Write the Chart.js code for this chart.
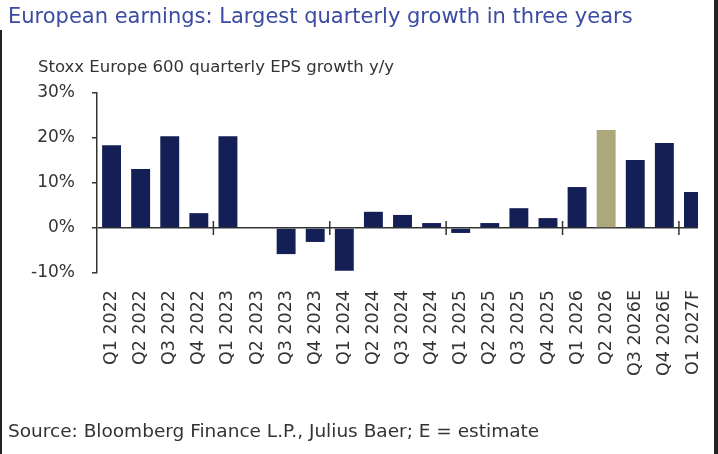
<!DOCTYPE html>
<html>
<head>
<meta charset="utf-8">
<script src="https://cdn.jsdelivr.net/npm/chart.js@4/dist/chart.umd.min.js"></script>
<style>
  html, body { margin: 0; padding: 0; background: #fff; }
  body { width: 718px; height: 454px; position: relative; overflow: hidden; font-family: "DejaVu Sans", sans-serif; }
  #title { position: absolute; left: 8px; top: 4px; font-size: 21px; color: #3b4ba3; white-space: nowrap; }
  #subtitle { position: absolute; left: 38px; top: 57px; font-size: 16.5px; color: #333; white-space: nowrap; }
  #source { position: absolute; left: 8px; top: 420px; font-size: 18.5px; color: #333; white-space: nowrap; }
  #wrap { position: absolute; left: 0; top: 0; width: 698px; height: 454px; overflow: hidden; }
  #edgeL { position: absolute; left: 0; top: 30px; width: 2px; height: 424px; background: #222; }
  #edgeR { position: absolute; left: 714px; top: 0; width: 4px; height: 454px; background: #222; }
</style>
</head>
<body>
<div id="wrap"><canvas id="chart" width="740" height="454" style="width:740px;height:454px"></canvas></div>
<div id="title">European earnings: Largest quarterly growth in three years</div>
<div id="subtitle">Stoxx Europe 600 quarterly EPS growth y/y</div>
<div id="source">Source: Bloomberg Finance L.P., Julius Baer; E = estimate</div>
<div id="edgeL"></div>
<div id="edgeR"></div>
<script>
const quarters = ['Q1 2022', 'Q2 2022', 'Q3 2022', 'Q4 2022', 'Q1 2023', 'Q2 2023', 'Q3 2023',
  'Q4 2023', 'Q1 2024', 'Q2 2024', 'Q3 2024', 'Q4 2024', 'Q1 2025', 'Q2 2025', 'Q3 2025',
  'Q4 2025', 'Q1 2026', 'Q2 2026', 'Q3 2026E', 'Q4 2026E', 'Q1 2027F'];
const epsGrowth = [18.4, 13.1, 20.4, 3.3, 20.4, 0, -5.8, -3.1, -9.5, 3.6, 2.9, 1.1, -1.1, 1.1,
  4.4, 2.2, 9.1, 21.8, 15.1, 18.9, 8.0];
const highlighted = ['Q2 2026'];
const yTicks = [-10, 0, 10, 20, 30];

const NAVY = '#141f56';
const KHAKI = '#aca87b';

// small marks on the zero line every four quarters
const zeroTicks = {
  id: 'zeroTicks',
  afterDraw(chart) {
    const x = chart.scales.x, y = chart.scales.y;
    const ctx = chart.ctx;
    const y0 = y.getPixelForValue(0);
    ctx.save();
    ctx.strokeStyle = '#333';
    ctx.lineWidth = 1.5;
    for (let i = 4; i < quarters.length; i += 4) {
      const px = x.getPixelForValue(i - 0.5);
      ctx.beginPath();
      ctx.moveTo(px, y0 - 7);
      ctx.lineTo(px, y0 + 7);
      ctx.stroke();
    }
    ctx.restore();
  }
};

new Chart(document.getElementById('chart'), {
  type: 'bar',
  data: {
    labels: quarters,
    datasets: [{
      data: epsGrowth,
      backgroundColor: quarters.map(q => highlighted.includes(q) ? KHAKI : NAVY),
      barPercentage: 0.65,
      categoryPercentage: 1
    }]
  },
  options: {
    responsive: false,
    animation: false,
    layout: { padding: { top: 93, right: 32, bottom: 0, left: 0 } },
    plugins: { legend: { display: false }, tooltip: { enabled: false } },
    scales: {
      x: {
        grid: { display: false },
        border: { display: false },
        ticks: {
          autoSkip: false, minRotation: 90, maxRotation: 90, padding: 9,
          color: '#333', font: { family: 'DejaVu Sans', size: 17.5 }
        },
        afterFit(s) { s.height = 181; }
      },
      y: {
        min: -10, max: 30,
        afterBuildTicks(s) { s.ticks = yTicks.map(v => ({ value: v })); },
        grid: {
          color: c => c.tick && c.tick.value === 0 ? '#333' : 'transparent',
          tickColor: '#333', tickLength: 5, lineWidth: 1.5
        },
        border: { display: true, color: '#333', width: 1.5 },
        ticks: {
          padding: 17, color: '#333', font: { family: 'DejaVu Sans', size: 17 },
          callback: v => v + '%'
        },
        afterFit(s) { s.width = 97; }
      }
    }
  },
  plugins: [zeroTicks]
});
</script>
</body>
</html>
